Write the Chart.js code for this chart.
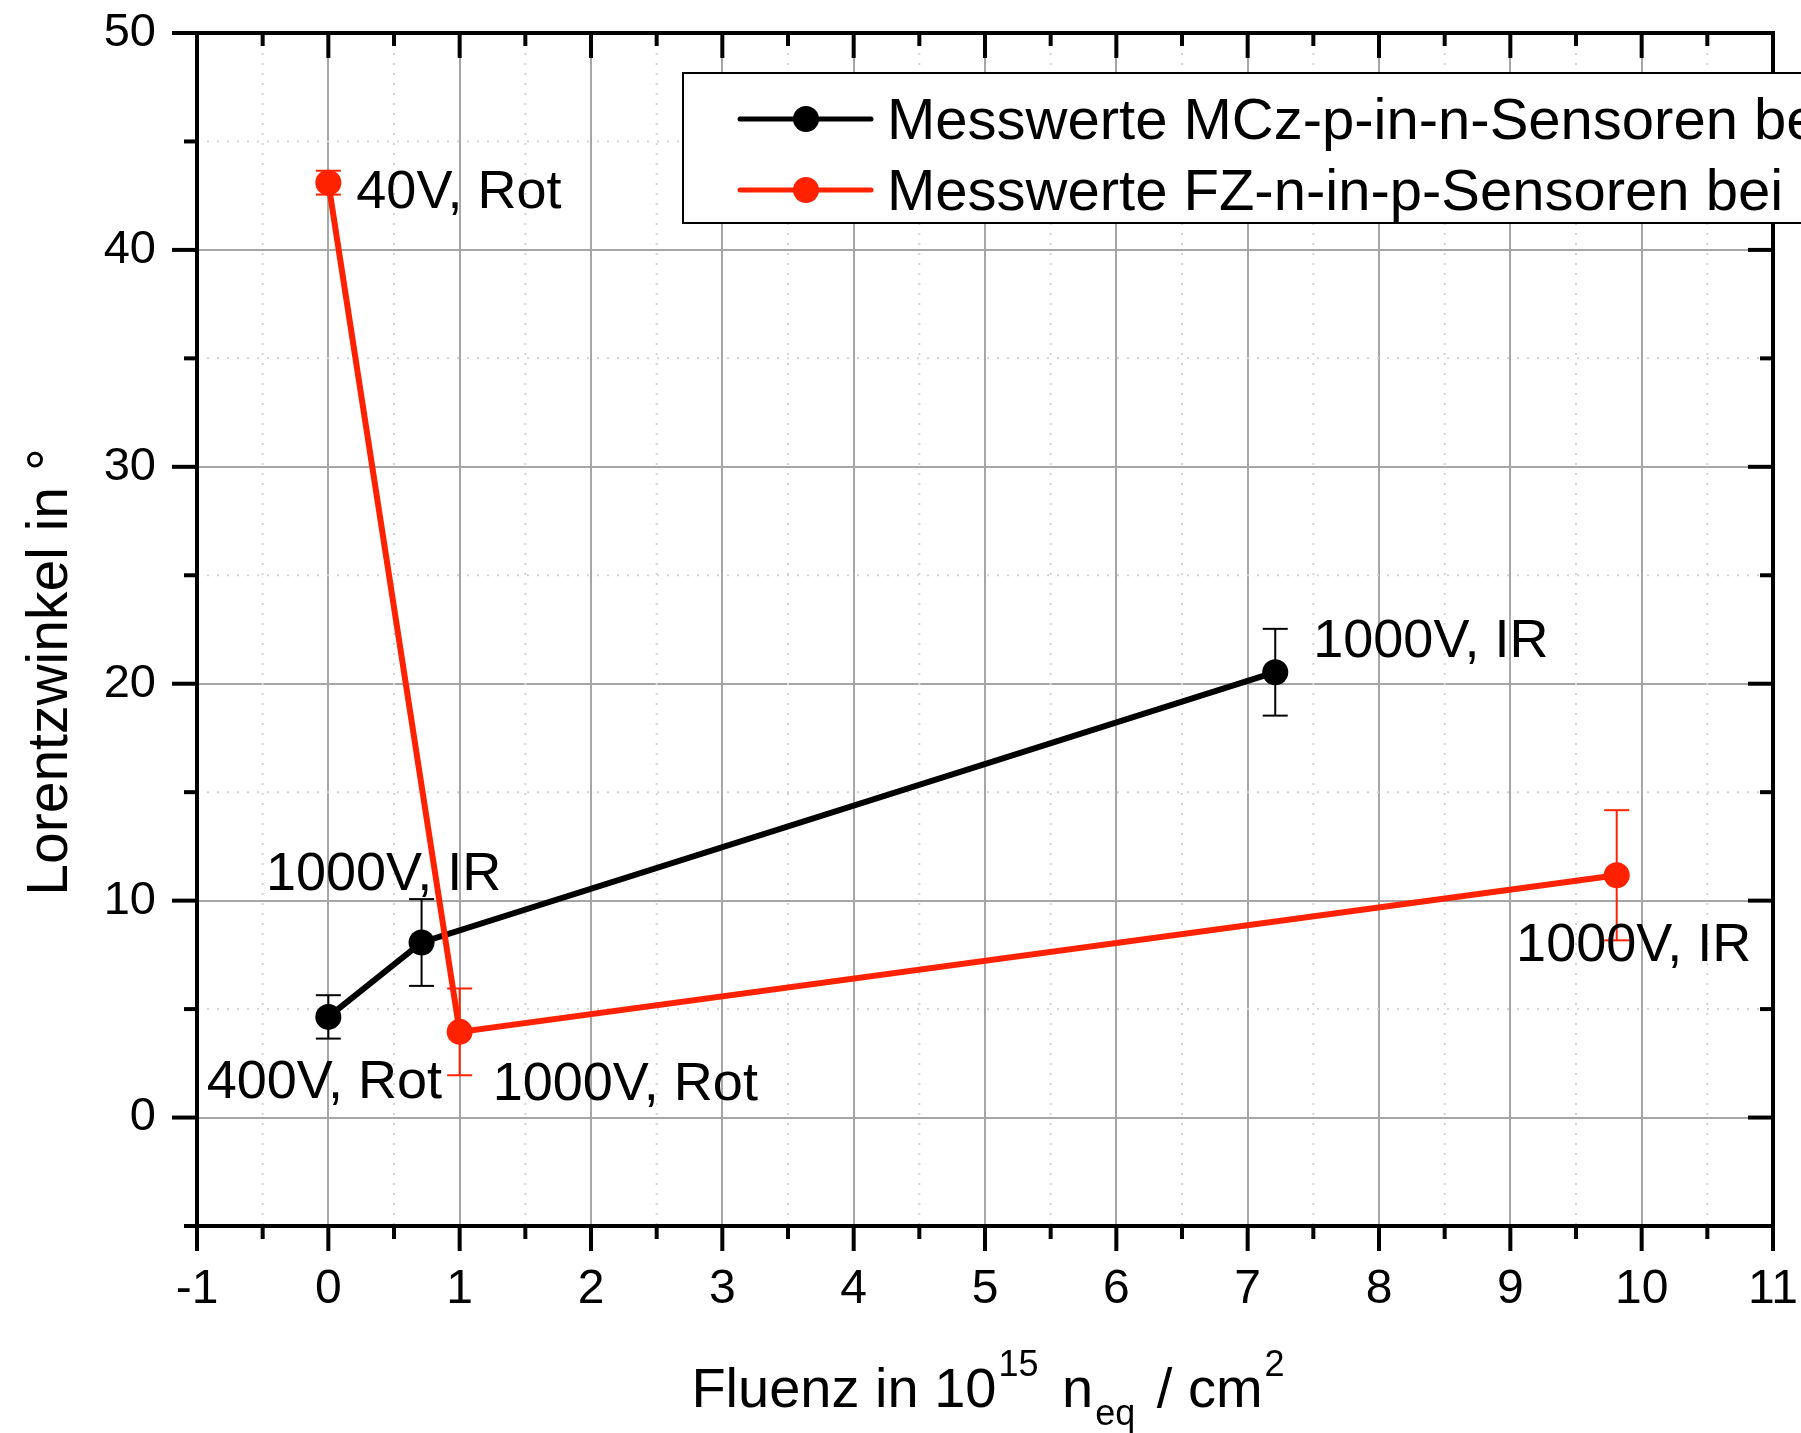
<!DOCTYPE html>
<html><head><meta charset="utf-8">
<script src="https://cdn.jsdelivr.net/npm/chart.js@4.4.0/dist/chart.umd.min.js"></script>
<style>html,body{margin:0;padding:0;background:#fff;overflow:hidden}canvas{display:block}</style>
</head><body>
<canvas id="c" width="1801" height="1433"></canvas>
<script>
// ---------- data ----------
const seriesNames = ['Messwerte MCz-p-in-n-Sensoren bei', 'Messwerte FZ-n-in-p-Sensoren bei'];
const mczX = [0, 0.71, 7.21];
const mczY = [4.64, 8.07, 20.53];
const mczErr = [1.0, 2.0, 2.0];
const mczLabels = ['400V, Rot', '1000V, IR', '1000V, IR'];
const fzX = [0, 1.0, 9.81];
const fzY = [43.1, 3.95, 11.17];
const fzErr = [0.55, 2.0, 3.0];
const fzLabels = ['40V, Rot', '1000V, Rot', '1000V, IR'];
const xTickValues = [-1, 0, 1, 2, 3, 4, 5, 6, 7, 8, 9, 10, 11];
const xMinorValues = [-0.5, 0.5, 1.5, 2.5, 3.5, 4.5, 5.5, 6.5, 7.5, 8.5, 9.5, 10.5];
const yTickValues = [0, 10, 20, 30, 40, 50];
const yMinorValues = [-5, 5, 15, 25, 35, 45];
const xTitleParts = ['Fluenz in 10', '15', ' n', 'eq', ' / cm', '2'];
const yTitle = 'Lorentzwinkel in °';

// ---------- styles ----------
const FONT = '"Liberation Sans", Arial, Helvetica, sans-serif';
const RED = '#ff2200';
const BLACK = '#000000';
const mczLabelStyle = [{align: 'center', dx: -4, dy: 81}, {align: 'center', dx: -38, dy: -52}, {align: 'left', dx: 38, dy: -15}];
const fzLabelStyle = [{align: 'left', dx: 28, dy: 25}, {align: 'left', dx: 33, dy: 68}, {align: 'center', dx: 17, dy: 86}];
const PLOT = {left: 197, top: 33, right: 1773, bottom: 1226};

function pts(xs, ys) { return xs.map((v, i) => ({x: v, y: ys[i]})); }

function seg(ctx, x1, y1, x2, y2) { ctx.beginPath(); ctx.moveTo(x1, y1); ctx.lineTo(x2, y2); ctx.stroke(); }

function zeroPad(s) { s.paddingTop = 0; s.paddingBottom = 0; s.paddingLeft = 0; s.paddingRight = 0; }

const decoPlugin = {
  id: 'deco',
  beforeDatasetsDraw(chart) {
    const {ctx, chartArea: a, scales: {x, y}} = chart;
    ctx.save();
    // minor grid
    ctx.strokeStyle = '#d4d4d4'; ctx.lineWidth = 2; ctx.setLineDash([2, 8]);
    xMinorValues.forEach(v => { const p = x.getPixelForValue(v); seg(ctx, p, a.top, p, a.bottom); });
    yMinorValues.forEach(v => { const p = y.getPixelForValue(v); if (p < a.bottom - 2) seg(ctx, a.left, p, a.right, p); });
    ctx.setLineDash([]);
    // error bars
    chart.data.datasets.forEach(ds => {
      ctx.strokeStyle = ds.borderColor; ctx.lineWidth = 2;
      ds.errors.forEach((e, j) => {
        const d = ds.data[j];
        const px = x.getPixelForValue(d.x);
        const t = y.getPixelForValue(d.y + e), b = y.getPixelForValue(d.y - e);
        seg(ctx, px, t, px, b);
        seg(ctx, px - 12.5, t, px + 12.5, t);
        seg(ctx, px - 12.5, b, px + 12.5, b);
      });
    });
    ctx.restore();
  },
  afterDatasetsDraw(chart) {
    const {ctx, chartArea: a, scales: {x, y}} = chart;
    ctx.save();
    // frame
    ctx.strokeStyle = '#000'; ctx.lineWidth = 4; ctx.lineJoin = 'miter';
    ctx.strokeRect(a.left, a.top, a.right - a.left, a.bottom - a.top);
    // ticks
    const MAJ = 25, MIN = 13;
    xTickValues.forEach(v => { const p = x.getPixelForValue(v); seg(ctx, p, a.bottom, p, a.bottom + MAJ); seg(ctx, p, a.top, p, a.top + MAJ); });
    xMinorValues.forEach(v => { const p = x.getPixelForValue(v); seg(ctx, p, a.bottom, p, a.bottom + MIN); seg(ctx, p, a.top, p, a.top + MIN); });
    yTickValues.forEach(v => { const p = y.getPixelForValue(v); seg(ctx, a.left - MAJ, p, a.left, p); seg(ctx, a.right - MAJ, p, a.right, p); });
    yMinorValues.forEach(v => { const p = y.getPixelForValue(v); seg(ctx, a.left - MIN, p, a.left, p); seg(ctx, a.right - MIN, p, a.right, p); });
    // point labels
    ctx.fillStyle = '#000'; ctx.font = '54px ' + FONT; ctx.textBaseline = 'alphabetic';
    chart.data.datasets.forEach(ds => {
      ds.pointLabels.forEach((txt, j) => {
        const st = ds.labelStyle[j];
        const d = ds.data[j];
        ctx.textAlign = st.align;
        ctx.fillText(txt, x.getPixelForValue(d.x) + st.dx, y.getPixelForValue(d.y) + st.dy);
      });
    });
    ctx.restore();
  },
  afterDraw(chart) {
    const {ctx, chartArea: a} = chart;
    ctx.save();
    // legend
    ctx.fillStyle = '#fff'; ctx.fillRect(683, 73, 1200, 150);
    ctx.strokeStyle = '#000'; ctx.lineWidth = 2; ctx.strokeRect(683, 73, 1200, 150);
    const rows = [119, 190];
    chart.data.datasets.forEach((ds, i) => {
      const ry = rows[i];
      ctx.strokeStyle = ds.borderColor; ctx.lineWidth = 5; ctx.lineCap = 'round';
      seg(ctx, 740, ry, 871, ry);
      ctx.fillStyle = ds.backgroundColor; ctx.beginPath(); ctx.arc(806, ry, 13, 0, Math.PI * 2); ctx.fill();
      ctx.fillStyle = '#000'; ctx.font = '58px ' + FONT; ctx.textAlign = 'left'; ctx.textBaseline = 'alphabetic';
      ctx.fillText(ds.label, 887, ry + 20);
    });
    ctx.lineCap = 'butt';
    // x title
    const big = '56px ' + FONT, small = '36px ' + FONT;
    const sizes = [big, small, big, small, big, small];
    const shifts = [0, -31, 0, 18, 0, -31];
    const gaps = [2, 8, 2, 6, 2, 0];
    let total = 0;
    const widths = xTitleParts.map((t, i) => { ctx.font = sizes[i]; const w = ctx.measureText(t).width + gaps[i]; total += w; return w; });
    let cx = (a.left + a.right) / 2 - total / 2 + 3;
    ctx.fillStyle = '#000'; ctx.textAlign = 'left'; ctx.textBaseline = 'alphabetic';
    xTitleParts.forEach((t, i) => { ctx.font = sizes[i]; ctx.fillText(t, cx, 1407 + shifts[i]); cx += widths[i]; });
    // y title
    ctx.translate(67, 672); ctx.rotate(-Math.PI / 2);
    ctx.font = '57px ' + FONT; ctx.textAlign = 'center';
    ctx.fillText(yTitle, 0, 0);
    ctx.restore();
  }
};

const chart = new Chart(document.getElementById('c'), {
  type: 'scatter',
  data: {
    datasets: [
      {label: seriesNames[0], data: pts(mczX, mczY), errors: mczErr, pointLabels: mczLabels, labelStyle: mczLabelStyle,
       borderColor: BLACK, backgroundColor: BLACK, showLine: true, borderWidth: 6, pointRadius: 13, pointBorderWidth: 0, order: 1},
      {label: seriesNames[1], data: pts(fzX, fzY), errors: fzErr, pointLabels: fzLabels, labelStyle: fzLabelStyle,
       borderColor: RED, backgroundColor: RED, showLine: true, borderWidth: 6, pointRadius: 13, pointBorderWidth: 0, order: 0}
    ]
  },
  options: {
    responsive: false, animation: false, devicePixelRatio: 1, events: [],
    layout: {autoPadding: false, padding: {left: 0, top: PLOT.top, right: 1801 - PLOT.right, bottom: 0}},
    plugins: {legend: {display: false}, tooltip: {enabled: false}, title: {display: false}},
    scales: {
      x: {
        type: 'linear', min: -1, max: 11,
        afterBuildTicks: s => { s.ticks = xTickValues.map(v => ({value: v})); },
        afterFit: s => { s.height = 1433 - PLOT.bottom; zeroPad(s); },
        grid: {color: '#a6a6a6', lineWidth: 2, drawTicks: false},
        border: {display: false},
        ticks: {color: '#000', font: {family: FONT, size: 48}, padding: 35, maxRotation: 0, autoSkip: false, callback: v => String(v)}
      },
      y: {
        type: 'linear', min: -5, max: 50,
        afterBuildTicks: s => { s.ticks = yTickValues.map(v => ({value: v})); },
        afterFit: s => { s.width = PLOT.left; zeroPad(s); },
        grid: {color: '#a6a6a6', lineWidth: 2, drawTicks: false},
        border: {display: false},
        ticks: {color: '#000', font: {family: FONT, size: 47}, padding: 41, autoSkip: false, callback: v => String(v)}
      }
    }
  },
  plugins: [decoPlugin]
});
</script>
</body></html>
